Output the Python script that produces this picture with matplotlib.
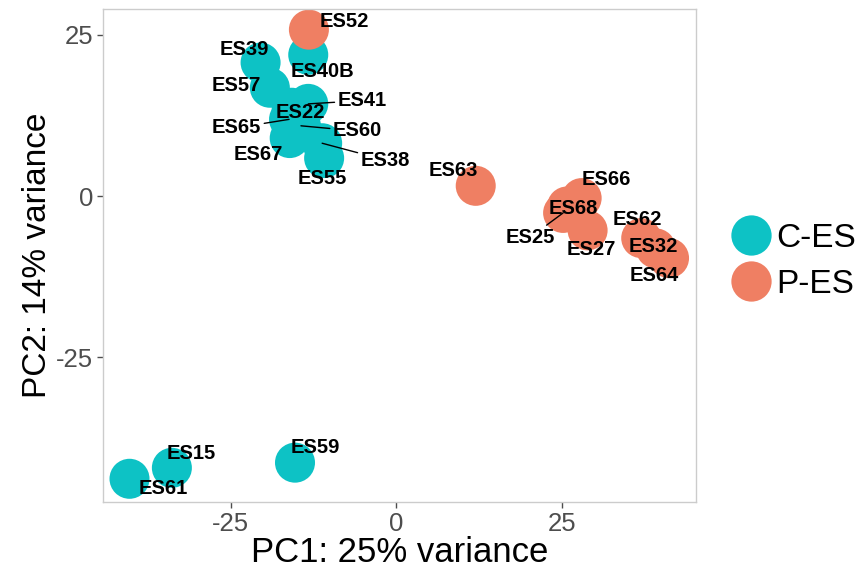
import matplotlib
matplotlib.use('Agg')
import matplotlib.pyplot as plt
from matplotlib.lines import Line2D

plt.rcParams['font.family'] = ['Liberation Sans', 'DejaVu Sans']
plt.rcParams['axes.unicode_minus'] = False  # 用普通连字符 "-25"

# 样本名、组别、PC1/PC2 坐标
samples = ['ES39', 'ES40B', 'ES57', 'ES22', 'ES41', 'ES65', 'ES60', 'ES67', 'ES38', 'ES55',
           'ES61', 'ES15', 'ES59',
           'ES52', 'ES63', 'ES66', 'ES68', 'ES25', 'ES27', 'ES62', 'ES32', 'ES64']
groups = ['C-ES'] * 13 + ['P-ES'] * 9
pc1 = [-20.5, -13.3, -19.1, -15.8, -13.3, -16.2, -14.4, -16.1, -11.2, -10.9,
       -40.3, -33.9, -15.3,
       -13.2, 12.0, 28.0, 25.8, 25.2, 28.9, 37.0, 39.2, 41.2]
pc2 = [20.7, 21.9, 16.8, 13.7, 14.3, 11.9, 10.9, 9.0, 8.2, 5.9,
       -43.8, -42.1, -41.3,
       25.8, 1.6, -0.3, -1.6, -2.6, -5.3, -6.5, -8.1, -9.6]
# 标签位置 (类似 ggrepel 的结果)
lab_x = [-23.0, -11.1, -24.1, -14.5, -5.2, -24.1, -5.9, -20.8, -1.7, -11.1,
         -35.2, -30.9, -12.3,
         -7.9, 8.6, 31.8, 26.8, 20.2, 29.5, 36.4, 38.9, 38.9]
lab_y = [22.7, 19.3, 17.1, 13.0, 14.8, 10.6, 10.1, 6.4, 5.6, 2.8,
         -45.3, -39.9, -39.0,
         27.0, 3.9, 2.6, -1.9, -6.4, -8.2, -3.6, -7.8, -12.3]
with_segment = ['ES41', 'ES65', 'ES60', 'ES38', 'ES25']

group_names = ['C-ES', 'P-ES']
group_colors = {'C-ES': '#0DC2C5', 'P-ES': '#EF7F63'}

fig = plt.figure(figsize=(8.6, 5.74), dpi=100)
ax = fig.add_axes([0.1198, 0.1254, 0.6897, 0.8589])

for g in group_names:
    xs = [x for x, gg in zip(pc1, groups) if gg == g]
    ys = [y for y, gg in zip(pc2, groups) if gg == g]
    ax.scatter(xs, ys, s=830, c=group_colors[g], edgecolors='none', zorder=2)

for name, x, y, lx, ly in zip(samples, pc1, pc2, lab_x, lab_y):
    if name in with_segment:
        ax.annotate(name, xy=(x, y), xytext=(lx, ly), ha='center', va='center',
                    fontsize=14.5, fontweight='bold', color='black', zorder=4,
                    arrowprops=dict(arrowstyle='-', color='black', lw=1.0,
                                    shrinkA=0, shrinkB=0))
    else:
        ax.text(lx, ly, name, ha='center', va='center', fontsize=14.5,
                fontweight='bold', color='black', zorder=4)

ax.set_xlim(-44.3, 45.3)
ax.set_ylim(-47.4, 29.0)
ax.set_xticks([-25, 0, 25])
ax.set_yticks([-25, 0, 25])
ax.tick_params(axis='both', colors='#4D4D4D', labelsize=18.5, length=4, width=1,
               labelcolor='#4D4D4D', pad=3)
for sp in ax.spines.values():
    sp.set_color('#CCCCCC')
    sp.set_linewidth(1.0)
ax.set_xlabel('PC1: 25% variance', fontsize=25, color='black', labelpad=0)
ax.set_ylabel('PC2: 14% variance', fontsize=24, color='black', labelpad=2)

handles = [Line2D([0], [0], marker='o', linestyle='none', markersize=29,
                  markerfacecolor=group_colors[g], markeredgecolor='none')
           for g in group_names]
fig.legend(handles, group_names, loc='center left', bbox_to_anchor=(0.835, 0.545),
           frameon=False, fontsize=24, handletextpad=0.15, labelspacing=0.45,
           handlelength=1.2, borderaxespad=0)

fig.savefig('out.png', dpi=100)
